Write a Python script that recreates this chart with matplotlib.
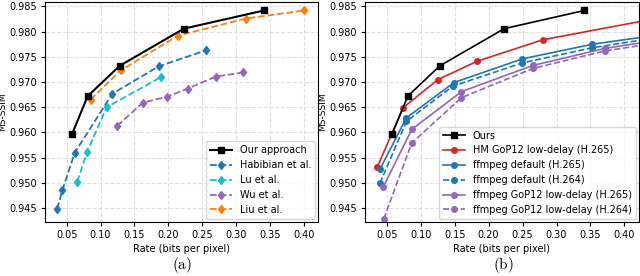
import matplotlib
matplotlib.use("Agg")
from matplotlib import pyplot as plt

# (a) comparison with learned codecs
ours_rate = [0.058, 0.081, 0.128, 0.223, 0.341]
ours_msssim = [0.9597, 0.9672, 0.9732, 0.9806, 0.9842]

habibian_rate = [0.036, 0.0436, 0.062, 0.1175, 0.1856, 0.2556]
habibian_msssim = [0.9448, 0.9485, 0.9560, 0.9677, 0.9731, 0.9763]

lu_rate = [0.0656, 0.080, 0.109, 0.1895]
lu_msssim = [0.9502, 0.9561, 0.9650, 0.9710]

wu_rate = [0.1245, 0.1624, 0.1981, 0.2286, 0.2703, 0.3107]
wu_msssim = [0.9613, 0.9659, 0.9671, 0.9687, 0.9711, 0.9719]

liu_rate = [0.0852, 0.1297, 0.2139, 0.3143, 0.400]
liu_msssim = [0.9665, 0.9723, 0.9792, 0.9826, 0.9842]

# (b) comparison with standard codecs
hm_rate = [0.036, 0.074, 0.1255, 0.1826, 0.280, 0.470]
hm_msssim = [0.9531, 0.9649, 0.9705, 0.9741, 0.9784, 0.9832]

x265_rate = [0.040, 0.079, 0.149, 0.2497, 0.3525, 0.500]
x265_msssim = [0.9527, 0.9629, 0.9699, 0.9746, 0.9775, 0.9803]

x264_rate = [0.040, 0.079, 0.1475, 0.2497, 0.3525, 0.490]
x264_msssim = [0.9499, 0.9622, 0.9692, 0.9738, 0.9768, 0.9797]

gop265_rate = [0.0447, 0.0868, 0.160, 0.2653, 0.372, 0.500]
gop265_msssim = [0.9491, 0.9606, 0.9681, 0.9733, 0.9767, 0.9793]

gop264_rate = [0.0455, 0.0868, 0.160, 0.2653, 0.372, 0.500]
gop264_msssim = [0.9428, 0.9579, 0.9669, 0.9727, 0.9762, 0.9788]

plt.rcParams['font.family'] = ['DejaVu Sans']
plt.rcParams['mathtext.fontset'] = 'cm'

fig = plt.figure(figsize=(6.4, 2.76), dpi=100)
ax1 = fig.add_axes([0.0703, 0.197, 0.4267, 0.796])
ax2 = fig.add_axes([0.5703, 0.197, 0.4277, 0.796])

ax1.plot(ours_rate, ours_msssim, '-s', color='black', lw=1.5, ms=4.5, label='Our approach', zorder=5)
ax1.plot(habibian_rate, habibian_msssim, '--d', color='#1f77b4', lw=1.3, ms=4.5, label='Habibian et al.')
ax1.plot(lu_rate, lu_msssim, '--d', color='#17becf', lw=1.3, ms=4.5, label='Lu et al.')
ax1.plot(wu_rate, wu_msssim, '--d', color='#9467bd', lw=1.3, ms=4.5, label='Wu et al.')
ax1.plot(liu_rate, liu_msssim, '--d', color='#ff7f0e', lw=1.3, ms=4.5, label='Liu et al.')

ax2.plot(ours_rate, ours_msssim, '-s', color='black', lw=1.2, ms=4.5, label='Ours', zorder=5)
ax2.plot(hm_rate, hm_msssim, '-o', color='#d62728', lw=1.2, ms=4, label='HM GoP12 low-delay (H.265)')
ax2.plot(x265_rate, x265_msssim, '-o', color='#1f77b4', lw=1.2, ms=4, label='ffmpeg default (H.265)')
ax2.plot(x264_rate, x264_msssim, '--o', color='#1f77b4', lw=1.2, ms=4, label='ffmpeg default (H.264)')
ax2.plot(gop265_rate, gop265_msssim, '-o', color='#9467bd', lw=1.2, ms=4, label='ffmpeg GoP12 low-delay (H.265)')
ax2.plot(gop264_rate, gop264_msssim, '--o', color='#9467bd', lw=1.2, ms=4, label='ffmpeg GoP12 low-delay (H.264)')

xticks = [0.05, 0.10, 0.15, 0.20, 0.25, 0.30, 0.35, 0.40]
yticks = [0.945, 0.950, 0.955, 0.960, 0.965, 0.970, 0.975, 0.980, 0.985]
for ax in (ax1, ax2):
    ax.set_xlim(0.018, 0.421)
    ax.set_ylim(0.9423, 0.9859)
    ax.set_xticks(xticks)
    ax.set_yticks(yticks)
    ax.set_xticklabels(['%.2f' % t for t in xticks])
    ax.set_yticklabels(['%.3f' % t for t in yticks])
    ax.tick_params(labelsize=7, length=3, pad=3)
    ax.grid(True, ls='--', color='#e0e0e0', lw=0.8)
    ax.set_axisbelow(True)
    ax.set_xlabel('Rate (bits per pixel)', fontsize=7, labelpad=3)
    ax.set_ylabel('MS-SSIM', fontsize=6.5, labelpad=1)

ax1.legend(loc='lower right', fontsize=7, borderaxespad=0.3, handlelength=2.3)
ax2.legend(loc='lower right', fontsize=7, borderaxespad=0.3, handlelength=2.3)

fig.text(0.284, 0.04, r'$\mathrm{(a)}$', fontsize=11, ha='center', va='center')
fig.text(0.786, 0.04, r'$\mathrm{(b)}$', fontsize=11, ha='center', va='center')

fig.savefig('out.png', dpi=100)
